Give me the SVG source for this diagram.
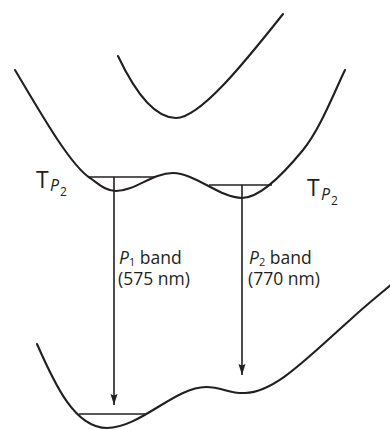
<svg xmlns="http://www.w3.org/2000/svg" width="390" height="430" viewBox="0 0 390 430">
<style>
.curve{fill:none;stroke:#231f20;stroke-width:2.1;stroke-linecap:round}
.lvl{fill:none;stroke:#231f20;stroke-width:1.6}
.arr{fill:none;stroke:#231f20;stroke-width:1.6}
text{font-family:"Open Sans","Noto Sans","Liberation Sans",sans-serif;fill:#231f20}
.big{font-size:23px}
.pp{font-size:16px;font-style:italic}
.s2{font-size:12px}
.lab{font-size:17.5px}
.sub{font-size:11px}
.it{font-style:italic}
</style>
<defs>
<marker id="ah" markerWidth="12" markerHeight="8" refX="11" refY="3.5" orient="auto" markerUnits="userSpaceOnUse" viewBox="0 0 12 7">
<path d="M0,0 L11,3.5 L0,7 L1.5,3.5 Z" fill="#231f20"/>
</marker>
</defs>
<rect width="390" height="430" fill="#ffffff"/>
<g id="upper-state">
<path class="curve" d="M118,56 C135,92 155,118 176,118 C200,118 245,62 283,14"/>
</g>
<g id="t-state">
<path class="curve" d="M15,70 C40,112 70,165 90,178 C100,185 106,191 116,191 C135,191 152,173 173,173 C195,173 220,198 242,198 C260,198 285,172 303,150 C320,129 333,95 345,70"/>
<line class="lvl" x1="88" y1="177" x2="155" y2="177"/>
<line class="lvl" x1="209" y1="185" x2="272" y2="185"/>
</g>
<g id="label-t-left">
<text class="big" x="36" y="188">T</text>
<text class="pp" x="50" y="191">P</text>
<text class="s2" x="60" y="196">2</text>
</g>
<g id="label-t-right">
<text class="big" x="307" y="196">T</text>
<text class="pp" x="321" y="200">P</text>
<text class="s2" x="331" y="205">2</text>
</g>
<g id="ground-state">
<path class="curve" d="M37,344 C55,385 75,428 107,428 C140,428 175,387 206,387 C222,387 230,394 245,393 C275,392 305,360 350,320 C365,306 380,294 392,284"/>
<line class="lvl" x1="79" y1="414" x2="145" y2="414"/>
</g>
<g id="connectors">
<line class="arr" x1="114" y1="177" x2="114" y2="405" marker-end="url(#ah)"/>
<line class="arr" x1="242" y1="185" x2="242" y2="375" marker-end="url(#ah)"/>
</g>
<g id="label-p1">
<text class="lab" x="119" y="264"><tspan class="it">P</tspan><tspan class="sub" dy="2">1</tspan><tspan dy="-2"> band</tspan></text>
<text class="lab" x="118" y="285">(575 nm)</text>
</g>
<g id="label-p2">
<text class="lab" x="249" y="264"><tspan class="it">P</tspan><tspan class="sub" dy="2">2</tspan><tspan dy="-2"> band</tspan></text>
<text class="lab" x="248" y="285">(770 nm)</text>
</g>
</svg>
